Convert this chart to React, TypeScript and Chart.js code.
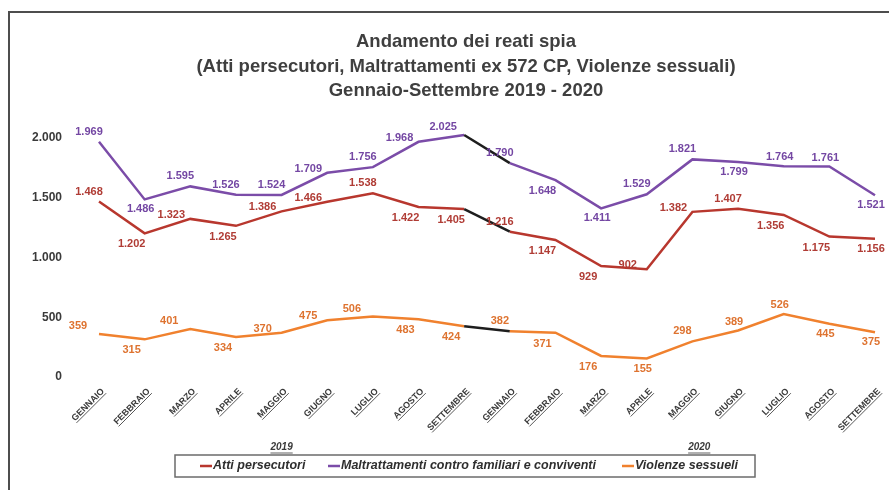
import React, { useEffect, useRef } from "react";
import { Chart, registerables } from "chart.js";

Chart.register(...registerables);

// ---------- DATA ----------
const titleLines = [
  "Andamento dei reati spia",
  "(Atti persecutori, Maltrattamenti ex 572 CP, Violenze sessuali)",
  "Gennaio-Settembre 2019 - 2020",
];
const months = [
  "GENNAIO", "FEBBRAIO", "MARZO", "APRILE", "MAGGIO", "GIUGNO", "LUGLIO", "AGOSTO", "SETTEMBRE",
  "GENNAIO", "FEBBRAIO", "MARZO", "APRILE", "MAGGIO", "GIUGNO", "LUGLIO", "AGOSTO", "SETTEMBRE",
];
const years = ["2019", "2020"];
const seriesNames = [
  "Atti persecutori",
  "Maltrattamenti contro familiari e conviventi",
  "Violenze sessueli",
];
const attiPersecutori = [1468, 1202, 1323, 1265, 1386, 1466, 1538, 1422, 1405, 1216, 1147, 929, 902, 1382, 1407, 1356, 1175, 1156];
const maltrattamenti = [1969, 1486, 1595, 1526, 1524, 1709, 1756, 1968, 2025, 1790, 1648, 1411, 1529, 1821, 1799, 1764, 1761, 1521];
const violenzeSessuali = [359, 315, 401, 334, 370, 475, 506, 483, 424, 382, 371, 176, 155, 298, 389, 526, 445, 375];
const yTicks = [0, 500, 1000, 1500, 2000];

// label placement codes (style): a=above-left, A=above, b=below-left, B=below, l=left, L=left-up
const placeAtti = ["a", "b", "l", "b", "l", "l", "a", "b", "b", "a", "b", "b", "l", "l", "a", "b", "b", "B"];
const placeMalt = ["a", "B", "a", "a", "a", "l", "a", "l", "L", "a", "b", "B", "a", "a", "B", "A", "A", "B"];
const placeViol = ["L", "b", "L", "b", "l", "l", "L", "b", "b", "a", "b", "b", "B", "a", "A", "A", "B", "B"];

const lineColors = ["#b8372e", "#7b4ca8", "#f0812e"];
const textColors = ["#b03c35", "#7447a3", "#de7330"];
const bridgeColor = "#1e1e1e";

const NARROW = "'Liberation Sans Narrow', 'Liberation Sans', Arial, sans-serif";

const fmt = (n: number) => String(n).replace(/\B(?=(\d{3})+(?!\d))/g, ".");

const offsets: Record<string, [number, number]> = {
  a: [-10, -10],
  A: [-4, -9],
  b: [-13, 11],
  B: [-4, 10],
  l: [-19, -4],
  L: [-21, -8],
};

const decorPlugin = {
  id: "decor",
  afterDatasetsDraw(chart: any) {
    const ctx = chart.ctx;
    const places = [placeAtti, placeMalt, placeViol];
    ctx.save();
    ctx.font = `bold 11px ${NARROW}`;
    ctx.textAlign = "center";
    ctx.textBaseline = "middle";
    chart.data.datasets.forEach((ds: any, di: number) => {
      const meta = chart.getDatasetMeta(di);
      meta.data.forEach((pt: any, i: number) => {
        const off = offsets[places[di][i]] || [0, -10];
        ctx.fillStyle = textColors[di];
        ctx.fillText(fmt(ds.data[i]), pt.x + off[0], pt.y + off[1]);
      });
    });
    ctx.restore();
  },
  afterDraw(chart: any) {
    const ctx = chart.ctx;
    const xs = chart.scales.x;
    ctx.save();

    // frame
    ctx.strokeStyle = "#4d4d4d";
    ctx.lineWidth = 2;
    ctx.beginPath();
    ctx.moveTo(9, 490);
    ctx.lineTo(9, 12);
    ctx.lineTo(889, 12);
    ctx.stroke();

    // title
    ctx.fillStyle = "#3f3f3f";
    ctx.font = `bold 18.5px ${NARROW}`;
    ctx.textAlign = "center";
    ctx.textBaseline = "middle";
    titleLines.forEach((t, i) => ctx.fillText(t, 466, 42 + i * 24.5));

    // x labels (rotated, underlined)
    ctx.font = `bold 9px ${NARROW}`;
    ctx.fillStyle = "#3a3a3a";
    ctx.strokeStyle = "#3a3a3a";
    ctx.lineWidth = 0.8;
    months.forEach((m, i) => {
      const x = xs.getPixelForValue(i);
      ctx.save();
      ctx.translate(x + 4, 390);
      ctx.rotate(-Math.PI / 4);
      ctx.textAlign = "right";
      ctx.textBaseline = "middle";
      ctx.fillText(m, 0, 0);
      const w = ctx.measureText(m).width;
      ctx.beginPath();
      ctx.moveTo(-w, 4.5);
      ctx.lineTo(0, 4.5);
      ctx.stroke();
      ctx.restore();
    });

    // year labels
    ctx.font = `italic bold 10px ${NARROW}`;
    ctx.textAlign = "center";
    ctx.textBaseline = "middle";
    ctx.fillStyle = "#3a3a3a";
    ctx.strokeStyle = "#3a3a3a";
    const yearCenters = [xs.getPixelForValue(4), xs.getPixelForValue(13.15)];
    years.forEach((y, i) => {
      const cx = yearCenters[i];
      ctx.fillText(y, cx, 447.5);
      const w = ctx.measureText(y).width;
      ctx.beginPath();
      ctx.moveTo(cx - w / 2, 453);
      ctx.lineTo(cx + w / 2, 453);
      ctx.stroke();
    });

    // legend
    const boxL = 175, boxT = 455, boxR = 755, boxB = 477;
    ctx.strokeStyle = "#6b6b6b";
    ctx.lineWidth = 1.5;
    ctx.strokeRect(boxL, boxT, boxR - boxL, boxB - boxT);
    ctx.font = `italic bold 12.5px ${NARROW}`;
    ctx.textAlign = "left";
    ctx.textBaseline = "middle";
    const itemStarts = [200, 328, 622];
    seriesNames.forEach((name, i) => {
      const sx = itemStarts[i];
      ctx.strokeStyle = lineColors[i];
      ctx.lineWidth = 2.5;
      ctx.beginPath();
      ctx.moveTo(sx, 466);
      ctx.lineTo(sx + 12, 466);
      ctx.stroke();
      ctx.fillStyle = "#2e2e2e";
      ctx.fillText(name, sx + 13, 466);
    });

    ctx.restore();
  },
};

export default function App() {
  const ref = useRef<HTMLCanvasElement | null>(null);

  useEffect(() => {
    if (!ref.current) return;
    const mk = (label: string, data: number[], color: string) => ({
      label,
      data,
      borderColor: color,
      backgroundColor: color,
      borderWidth: 2.5,
      pointRadius: 0,
      tension: 0,
      clip: false,
      segment: {
        borderColor: (c: any) => (c.p0DataIndex === 8 ? bridgeColor : undefined),
      },
    });
    const chart = new Chart(ref.current, {
      type: "line",
      data: {
        labels: months,
        datasets: [
          mk(seriesNames[0], attiPersecutori, lineColors[0]),
          mk(seriesNames[1], maltrattamenti, lineColors[1]),
          mk(seriesNames[2], violenzeSessuali, lineColors[2]),
        ],
      },
      options: {
        animation: false,
        responsive: false,
        layout: { padding: { left: 0, right: 14, top: 138, bottom: 113 } },
        plugins: {
          legend: { display: false },
          title: { display: false },
          tooltip: { enabled: false },
        },
        scales: {
          x: { display: false, offset: false },
          y: {
            min: yTicks[0],
            max: yTicks[yTicks.length - 1],
            afterBuildTicks: (s: any) => {
              s.ticks = yTicks.map((v) => ({ value: v }));
            },
            afterFit: (s: any) => {
              s.width = 99;
            },
            grid: { display: false, drawTicks: false },
            border: { display: false },
            ticks: {
              padding: 37,
              color: "#3a3a3a",
              font: { family: "'Liberation Sans', Arial, sans-serif", weight: "bold", size: 12 },
              callback: (v: any) => fmt(Number(v)),
            },
          },
        },
      },
      plugins: [decorPlugin],
    });
    return () => chart.destroy();
  }, []);

  return (
    <div style={{ position: "fixed", left: 0, top: 0, width: 889, height: 490, background: "#ffffff" }}>
      <canvas ref={ref} width={889} height={490} style={{ display: "block" }} />
    </div>
  );
}
